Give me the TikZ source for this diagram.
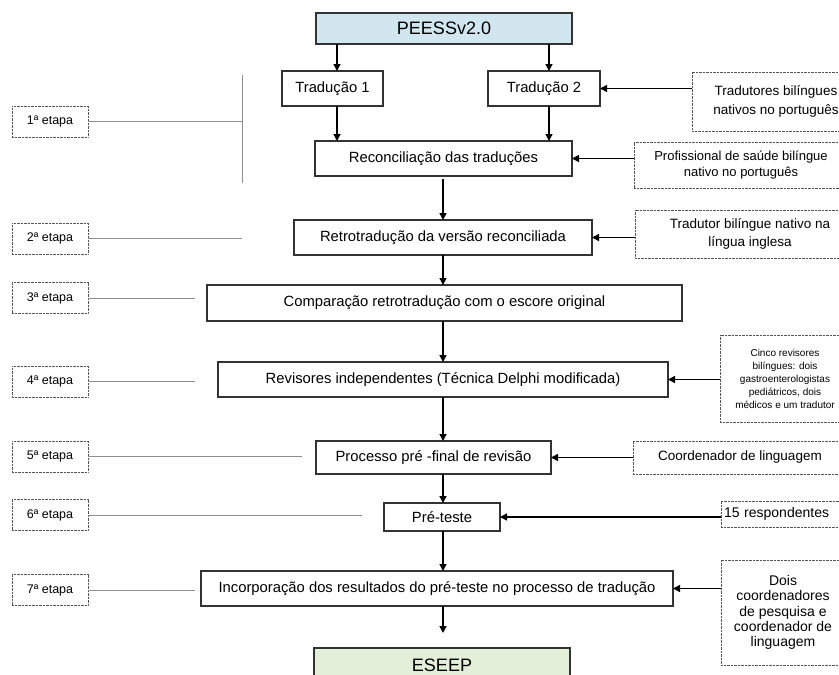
\documentclass[tikz,border=0pt]{standalone}
\usepackage{fontspec}
\setmainfont{Liberation Sans}
\usetikzlibrary{arrows.meta,calc}
\definecolor{blueF}{HTML}{D2E6EF}
\definecolor{greenF}{HTML}{E3EFD9}
\definecolor{boxline}{HTML}{333333}
\definecolor{dotline}{HTML}{555555}
\definecolor{stagecol}{HTML}{8E8E8E}
\begin{document}
\begin{tikzpicture}[x=1pt,y=-1pt,
 mainbox/.style={draw=boxline, line width=1.1pt, inner sep=0pt, outer sep=0pt, font=\fontsize{14.8}{18}\selectfont, text=black},
 sidebox/.style={draw=dotline, line width=0.6pt, dash pattern=on 0.7pt off 0.7pt, inner sep=0pt, outer sep=0pt, align=center, text=black},
 stagebox/.style={sidebox, minimum width=76, minimum height=31, font=\fontsize{12.5}{14}\selectfont},
 stageline/.style={draw=stagecol, line width=0.9pt},
 arr/.style={draw=black, line width=1.4pt, -{Triangle[length=7pt,width=7pt]}},
]
\useasboundingbox (0,0) rectangle (839,675);
\clip (0,0) rectangle (839,675);

% main flow
\node[mainbox, fill=blueF, minimum width=256, minimum height=31, font=\fontsize{18}{20}\selectfont] (peess) at (444,28.5) {PEESSv2.0};
\node[mainbox, minimum width=101, minimum height=35] (t1) at (332.5,88.5) {Tradução 1};
\node[mainbox, minimum width=112, minimum height=35] (t2) at (544,88.5) {Tradução 2};
\node[mainbox, minimum width=257, minimum height=35] (rec) at (443.5,158.5) {Reconciliação das traduções};
\node[mainbox, minimum width=298, minimum height=35] (retro) at (443,237.5) {Retrotradução da versão reconciliada};
\node[mainbox, minimum width=475, minimum height=36] (comp) at (444.5,303) {Comparação retrotradução com o escore original};
\node[mainbox, minimum width=450, minimum height=35] (rev) at (443,379.5) {Revisores independentes (Técnica Delphi modificada)};
\node[mainbox, minimum width=235, minimum height=33] (proc) at (433.5,457.5) {Processo pré -final de revisão};
\node[mainbox, minimum width=116, minimum height=28] (pre) at (442,517) {Pré-teste};
\node[mainbox, minimum width=472, minimum height=35] (inc) at (437,588.5) {Incorporação dos resultados do pré-teste no processo de tradução};
\node[mainbox, fill=greenF, minimum width=256, minimum height=34, font=\fontsize{18}{20}\selectfont] (eseep) at (442,665) {ESEEP};

% right side boxes
\node[sidebox, minimum width=168, minimum height=59, font=\fontsize{13.5}{19}\selectfont] (trs) at (776,101.5) {Tradutores bilíngues\\nativos no português};
\node[sidebox, minimum width=214, minimum height=46, font=\fontsize{13}{16}\selectfont] (prof) at (741,165) {Profissional de saúde bilíngue\\nativo no português};
\node[sidebox, minimum width=230, minimum height=48, font=\fontsize{13.5}{18}\selectfont] (tb) at (750,234) {Tradutor bilíngue nativo na\\língua inglesa};
\node[sidebox, minimum width=130, minimum height=87, font=\fontsize{10}{13}\selectfont] (cinco) at (785,378.5) {Cinco revisores\\bilíngues: dois\\gastroenterologistas\\pediátricos, dois\\médicos e um tradutor};
\node[sidebox, minimum width=214, minimum height=33, font=\fontsize{13.5}{16}\selectfont] (coord) at (740,457.5) {Coordenador de linguagem};
\node[sidebox, anchor=west, minimum width=130, minimum height=26, text width=124, inner xsep=3pt, align=left, font=\fontsize{14}{16}\selectfont] (resp) at (721,514) {15 respondentes};
\node[sidebox, minimum width=124, minimum height=105, font=\fontsize{14}{15.3}\selectfont] (dois) at (783,612.5) {Dois\\coordenadores\\de pesquisa e\\coordenador de\\linguagem};

% stage boxes
\node[stagebox] (s1) at (50,121.5) {1ª etapa};
\node[stagebox] (s2) at (50,238.5) {2ª etapa};
\node[stagebox] (s3) at (50,298) {3ª etapa};
\node[stagebox] (s4) at (50,381.5) {4ª etapa};
\node[stagebox] (s5) at (50,456.5) {5ª etapa};
\node[stagebox] (s6) at (50,515) {6ª etapa};
\node[stagebox] (s7) at (50,590) {7ª etapa};

\coordinate (bartop) at (242,75);
\coordinate (barbot) at (242,183);
\coordinate (e3) at (195,0);
\coordinate (e5) at (302,0);
\coordinate (e6) at (362,0);
\draw[stageline] (bartop) -- (barbot);
\draw[stageline] (s1.east) -- (s1.east -| bartop);
\draw[stageline] (s2.east) -- (s2.east -| bartop);
\draw[stageline] (s3.east) -- (s3.east -| e3);
\draw[stageline] (s4.east) -- (s4.east -| e3);
\draw[stageline] (s5.east) -- (s5.east -| e5);
\draw[stageline] (s6.east) -- (s6.east -| e6);
\draw[stageline] (s7.east) -- (s7.east -| e3);

% vertical arrows
\coordinate (c1) at (337,0);
\coordinate (c2) at (549,0);
\coordinate (ax) at (443,0);
\draw[arr] (peess.south -| c1) -- (t1.north -| c1);
\draw[arr] (peess.south -| c2) -- (t2.north -| c2);
\draw[arr] (t1.south -| c1) -- (rec.north -| c1);
\draw[arr] (t2.south -| c2) -- (rec.north -| c2);
\draw[arr] ([yshift=-3pt]rec.south -| ax) -- (retro.north -| ax);
\draw[arr] (retro.south -| ax) -- (comp.north -| ax);
\draw[arr] (comp.south -| ax) -- (rev.north -| ax);
\draw[arr] (rev.south -| ax) -- (proc.north -| ax);
\draw[arr] (proc.south -| ax) -- (pre.north -| ax);
\draw[arr] (pre.south -| ax) -- (inc.north -| ax);
\draw[arr, shorten >=15pt] (inc.south -| ax) -- (eseep.north -| ax);

% horizontal arrows
\draw[arr] (trs.west |- t2.east) -- (t2.east);
\draw[arr] (prof.west |- rec.east) -- (rec.east);
\draw[arr] (tb.west |- retro.east) -- (retro.east);
\draw[arr] (cinco.west |- rev.east) -- (rev.east);
\draw[arr] (coord.west |- proc.east) -- (proc.east);
\draw[arr] (resp.west |- pre.east) -- (pre.east);
\draw[arr] (dois.west |- inc.east) -- (inc.east);
\end{tikzpicture}
\end{document}
